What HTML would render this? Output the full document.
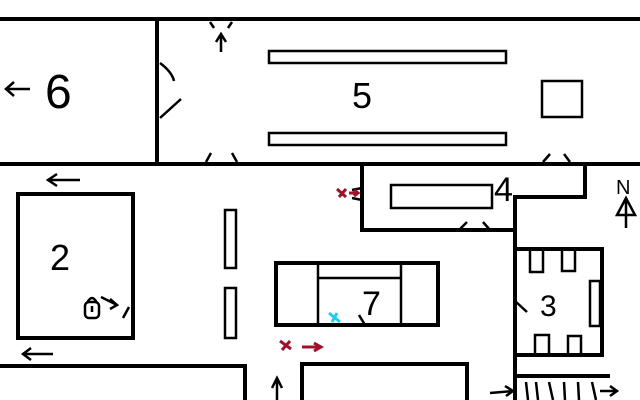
<!DOCTYPE html>
<html><head><meta charset="utf-8"><style>
html,body{margin:0;padding:0;background:#fff;width:640px;height:400px;overflow:hidden}
svg{display:block}
text{font-family:"Liberation Sans",sans-serif;fill:#000}
</style></head><body>
<svg width="640" height="400" viewBox="0 0 640 400" xmlns="http://www.w3.org/2000/svg">
<g stroke="#000" stroke-width="4" fill="none" stroke-linecap="square">
<line x1="0" y1="19" x2="640" y2="19"/>
<line x1="0" y1="164" x2="640" y2="164"/>
<line x1="157" y1="19" x2="157" y2="164"/>
<polyline points="362,164 362,230 515,230"/>
<polyline points="585,164 585,197 515,197 515,400"/>
<rect x="515" y="249" width="87" height="106"/>
<polyline points="515,376 608,376"/>
<rect x="18" y="194" width="115" height="144"/>
<rect x="276" y="263" width="162" height="62"/>
<polyline points="0,366 245,366 245,400"/>
<polyline points="302,400 302,364 467,364 467,400"/>
</g>
<g stroke="#000" stroke-width="2.5" fill="none">
<rect x="269" y="51" width="237" height="12"/>
<rect x="269" y="133" width="237" height="12"/>
<rect x="542" y="81" width="40" height="36"/>
<rect x="391" y="185" width="101" height="23"/>
<rect x="225" y="210" width="11" height="58"/>
<rect x="225" y="288" width="11" height="50"/>
<line x1="318" y1="278" x2="401" y2="278"/>
<line x1="401" y1="263" x2="401" y2="325"/>
<line x1="318" y1="263" x2="318" y2="325"/>
<rect x="530" y="249" width="13" height="23"/>
<rect x="562" y="249" width="13" height="22"/>
<rect x="535" y="335" width="14" height="20"/>
<rect x="568" y="336" width="13" height="19"/>
<rect x="590" y="281" width="10" height="45"/>
<path d="M160,63 Q172,72 174,81"/>
<path d="M160,118 L181,99"/>
<path d="M210,22 L214,28 M232,22 L228,28"/>
<path d="M206,162 L211,153 M237,162 L232,153"/>
<path d="M543,162 L550,154 M570,162 L564,154"/>
<path d="M459,230 L467,222 M490,230 L483,222"/>
<path d="M362,188 L352,190 M362,200 L352,198"/>
<path d="M359,315 L365,325"/>
<path d="M515,301 L527,312"/>
<path d="M129,307 L123,318"/>
<path d="M221,52 L221,36 M216,42 L221,34 L226,42"/>
<path d="M30,89 L6,89 M14,82 L6,89 L14,96"/>
<path d="M80,180 L48,180 M57,174 L48,180 L57,186"/>
<path d="M53,354 L23,354 M31,348 L23,354 L31,360"/>
<path d="M101,297 L117,305 M110,299 L117,305 L110,309"/>
<path d="M277,400 L277,380 M272,388 L277,378 L282,388"/>
<path d="M490,393 L513,391 M505,386 L513,391 L506,396"/>
<path d="M600,391 L617,391 M610,386 L617,391 L610,396"/>
<path d="M526,382 L528,400 M536,382 L538,400 M549,382 L553,400 M564,382 L565,400 M578,382 L579,400 M592,382 L596,400"/>
<rect x="85" y="302" width="14" height="16" rx="4"/>
<path d="M87,303 Q92,293 97,303"/>
<line x1="92" y1="306" x2="92" y2="312"/>
<path d="M626,198 L626,228 M617,215 L626,198 L635,215 Z"/>
</g>
<g stroke="#a0102a" stroke-width="3" fill="none">
<path d="M280,341 L291,349 M290,341 L282,350"/>
<path d="M302,347 L320,347 M314,343 L321,347 L314,351"/>
<path d="M337,189 L346,197 M346,189 L339,197"/>
<path d="M349,193 L358,193 M354,190 L358,193 L354,196"/>
</g>
<path d="M329,313 L340,322 M337,313 L332,322" stroke="#22ccee" stroke-width="3" fill="none"/>
<text x="45" y="108" font-size="48">6</text>
<text x="352" y="108" font-size="36">5</text>
<text x="50" y="270" font-size="36">2</text>
<text x="362" y="315" font-size="34">7</text>
<text x="540" y="316" font-size="30">3</text>
<text x="494" y="201" font-size="34">4</text>
<text x="616" y="194" font-size="20">N</text>
</svg>
</body></html>
